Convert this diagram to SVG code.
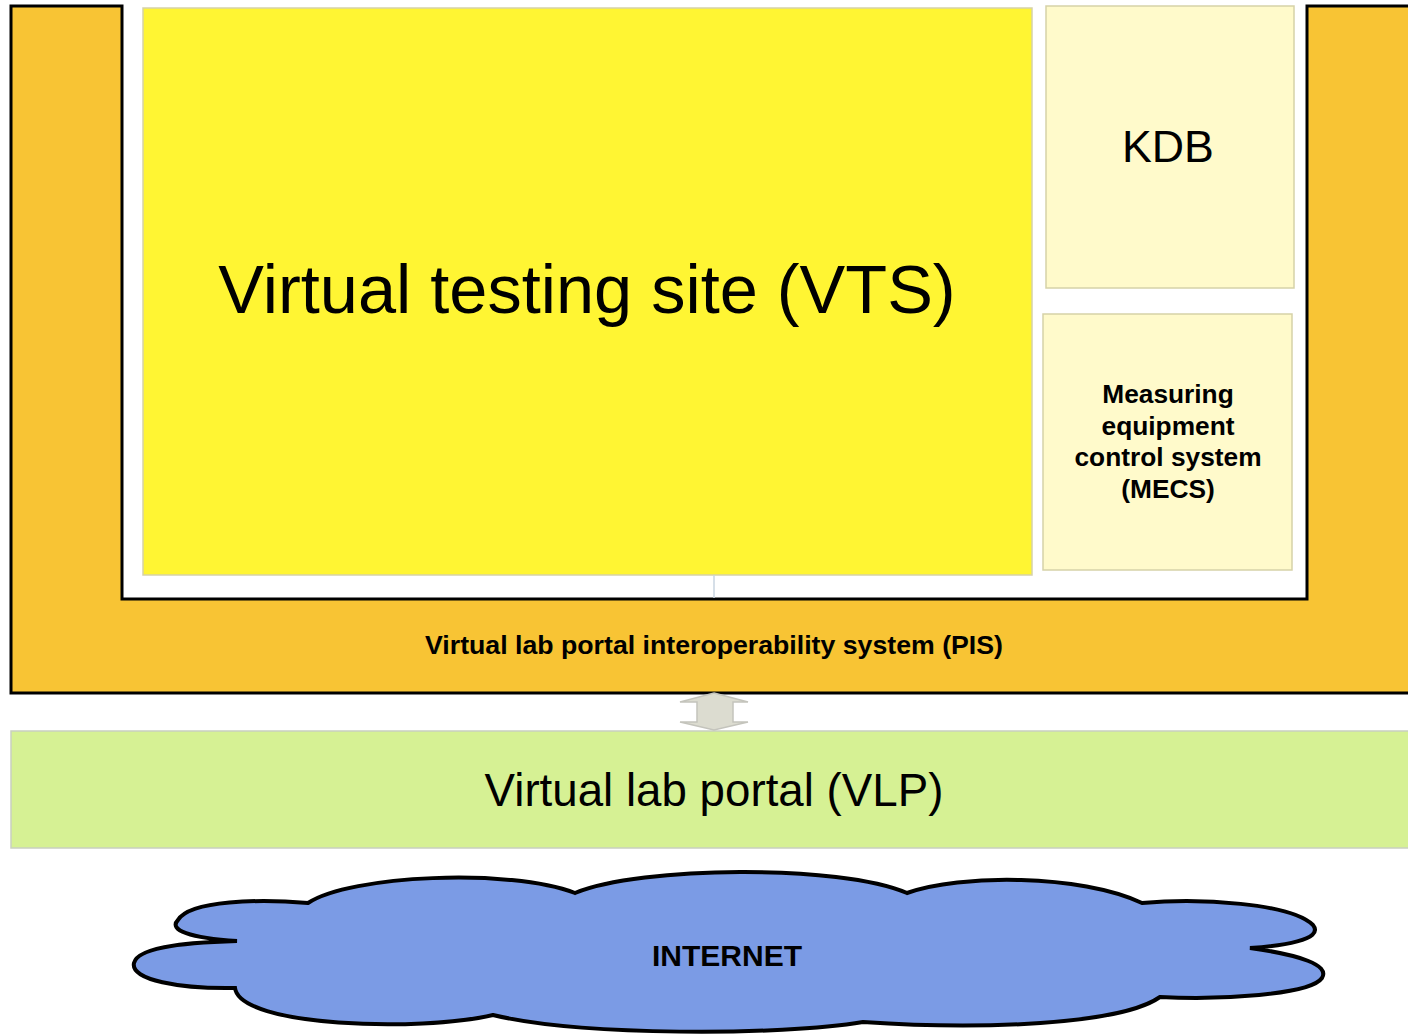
<svg xmlns="http://www.w3.org/2000/svg" width="1408" height="1036" viewBox="0 0 1408 1036">
<style>
.box{stroke:#d6d2a8;stroke-width:1.5}
.t{font-family:"Liberation Sans",Arial,sans-serif;fill:#000;text-anchor:middle}
.b{font-weight:bold}
</style>
<rect width="1408" height="1036" fill="#ffffff"/>
<g id="pis">
<path d="M11,6 H122 V599 H1307 V6 H1412 V693 H11 Z" fill="#f8c434" stroke="#000" stroke-width="3" stroke-linejoin="miter"/>
<text class="t b" x="714" y="654" font-size="26.7">Virtual lab portal interoperability system (PIS)</text>
</g>
<g id="vts">
<rect class="box" x="143" y="8" width="889" height="567" fill="#fff533" stroke="#d9d060"/>
<text class="t" x="587" y="313" font-size="68.5">Virtual testing site (VTS)</text>
</g>
<g id="kdb">
<rect class="box" x="1046" y="6" width="248" height="282" fill="#fffacb"/>
<text class="t" x="1168" y="162" font-size="44.7">KDB</text>
</g>
<g id="mecs">
<rect class="box" x="1043" y="314" width="249" height="256" fill="#fffacb"/>
<text class="t b" x="1168" y="403" font-size="26.3">Measuring</text>
<text class="t b" x="1168" y="435" font-size="26.3">equipment</text>
<text class="t b" x="1168" y="466" font-size="26.3">control system</text>
<text class="t b" x="1168" y="498" font-size="26.3">(MECS)</text>
</g>
<g id="vlp">
<rect x="11" y="731" width="1400" height="117" fill="#d6f194" stroke="#c9cfc0" stroke-width="1.5"/>
<text class="t" x="714" y="806" font-size="45.7">Virtual lab portal (VLP)</text>
</g>
<g id="internet">
<path d="M308,903 C350,875 510,868 575,893 C640,866 840,864 907,893 C960,874 1080,874 1142,903 C1200,898 1290,903 1313,925 C1325,940 1280,946 1250,948 C1300,955 1330,965 1322,978 C1310,995 1220,1000 1160,997 C1120,1025 980,1030 863,1022 C780,1036 580,1036 493,1015 C420,1032 240,1027 235,988 C180,989 130,980 134,963 C138,945 200,942 237,941 C190,938 168,930 178,920 C190,900 260,899 308,903 Z" fill="#7b9be5" stroke="#000" stroke-width="4" stroke-linejoin="miter"/>
<text class="t b" x="727" y="966" font-size="30">INTERNET</text>
</g>
<g id="connectors">
<line x1="714" y1="575" x2="714" y2="598" stroke="#c8d4e0" stroke-width="1.5"/>
<path d="M714,693 L748,702 L733,702 L733,722 L748,722 L714,730 L680,722 L697,722 L697,702 L680,702 Z" fill="#dcdcd0" stroke="#c4c4bc" stroke-width="1.5"/>
</g>
</svg>
